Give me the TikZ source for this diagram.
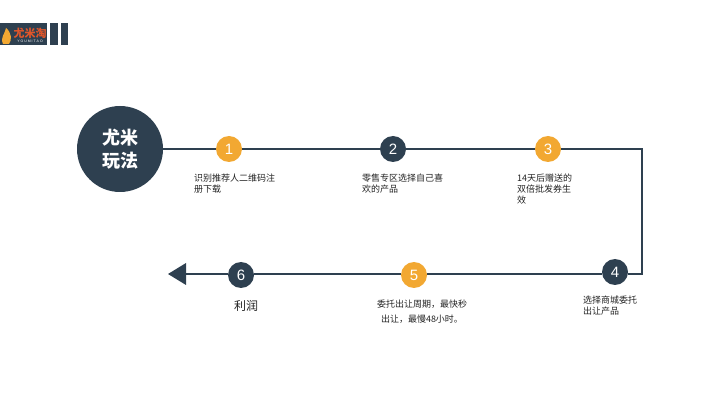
\documentclass[tikz,border=0pt]{standalone}
\usepackage{fontspec}
\setmainfont{Liberation Sans}
\newfontfamily\cjk{Noto Sans CJK SC}
\definecolor{slate}{HTML}{2E4050}
\definecolor{amber}{HTML}{F2A832}
\definecolor{caption}{HTML}{222222}
\definecolor{logored}{HTML}{E0562A}
\begin{document}
\begin{tikzpicture}[x=1pt,y=-1pt]
    \tikzstyle{hub} = [circle,minimum size=86pt,inner sep=0pt,fill=slate,text=white,align=center,font=\fontsize{18}{23}\selectfont\bfseries\cjk]
    \tikzstyle{stepdark} = [circle,minimum size=26pt,inner sep=0pt,fill=slate,text=white,font=\fontsize{15}{15}\selectfont]
    \tikzstyle{steplight} = [stepdark,fill=amber]
    \tikzstyle{note} = [anchor=north west,inner sep=0pt,align=left,text=caption,font=\fontsize{9}{11}\selectfont\cjk]
    \tikzstyle{bar} = [rectangle,minimum width=7.5pt,minimum height=22pt,inner sep=0pt,fill=slate]
    \tikzstyle{track} = [slate,line width=1.5pt]
    \useasboundingbox (0,0) rectangle (720,403);
    % logo
    \node (logo)[rectangle,minimum width=47pt,minimum height=22pt,inner sep=0pt,fill=slate] at (23.5,34){};
    \node (logotext)[inner sep=0pt,text=logored,font=\fontsize{11}{11}\selectfont\bfseries\cjk] at (30,33){尤米淘};
    \node (logosub)[inner sep=0pt,text=white,font=\fontsize{3.5}{3.5}\selectfont] at (30,41){Y O U M I T A O};
    \fill[amber] (3,44) .. controls (0,37) and (5,34) .. (6,28) .. controls (12,33) and (12,40) .. (9,44) -- cycle;
    \node (bara)[bar] at (54.2,34){};
    \node (barb)[bar] at (64.5,34){};
    % timeline
    \node (hub)[hub] at (120,149){尤米\\玩法};
    \node (one)[steplight] at (229,149){1};
    \node (two)[stepdark] at (393,149){2};
    \node (three)[steplight] at (548,149){3};
    \node (four)[stepdark] at (615,272){4};
    \node (five)[steplight] at (414,275){5};
    \node (six)[stepdark] at (241,275){6};
    \coordinate (corner) at (642,149);
    \coordinate (bend) at (642,274);
    \coordinate (tip) at (186,274);
    \draw [track] (hub) -- (one);
    \draw [track] (one) -- (two);
    \draw [track] (two) -- (three);
    \draw [track] (three) -- (corner) -- (bend) -- (bend -| four.east);
    \draw [track] (bend -| four.west) -- (bend -| five.east);
    \draw [track] (bend -| five.west) -- (bend -| six.east);
    \draw [track] (bend -| six.west) -- (tip);
    \fill [slate] (tip) ++(-18,0) -- ++(18,-11) -- ++(0,22) -- cycle;
    % captions
    \node (noteone)[note] at (194,174){识别推荐人二维码注\\册下载};
    \node (notetwo)[note] at (362,174){零售专区选择自己喜\\欢的产品};
    \node (notethree)[note] at (517,174){14天后赠送的\\双倍批发券生\\效};
    \node (notefour)[note] at (583,296){选择商城委托\\出让产品};
    \node (notefive)[note,anchor=north,align=center,font=\fontsize{9}{15}\selectfont\cjk] at (422,300){委托出让周期，最快秒\\出让，最慢48小时。};
    \node (notesix)[note,anchor=north,font=\fontsize{12}{14}\selectfont\cjk] at (246,300.5){利润};
\end{tikzpicture}
\end{document}
